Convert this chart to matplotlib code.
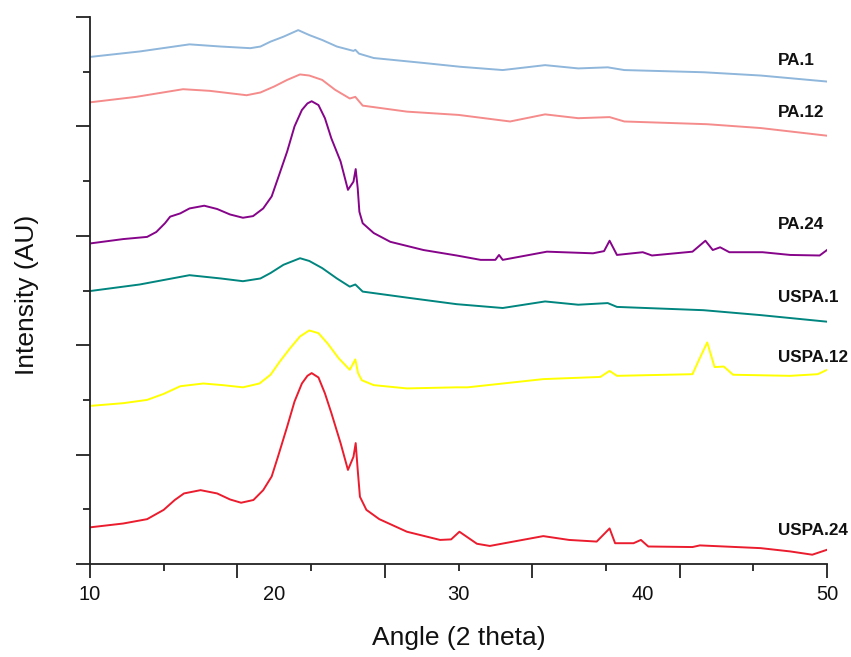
import matplotlib
matplotlib.use("Agg")
import matplotlib.pyplot as plt
from matplotlib.ticker import FixedLocator, NullFormatter

plt.rcParams['font.family'] = ['Liberation Sans', 'DejaVu Sans']

# ---------------- data ----------------
pa1_x = [10.0, 12.7, 15.4, 17.1, 18.7, 19.25, 19.8, 20.5, 21.3, 21.9, 22.6, 23.4,
         24.3, 24.4, 24.6, 25.4, 28.1, 30.1, 32.4, 34.7, 36.5, 38.1, 39.0, 43.3,
         46.4, 50.0]
pa1_y = [9.27, 9.37, 9.50, 9.46, 9.43, 9.46, 9.55, 9.64, 9.76, 9.67, 9.58, 9.46,
         9.38, 9.40, 9.33, 9.25, 9.16, 9.09, 9.03, 9.12, 9.06, 9.08, 9.03, 8.99,
         8.93, 8.82]

pa12_x = [10.0, 12.5, 15.05, 16.5, 18.5, 19.25, 20.0, 20.7, 21.4, 21.9, 22.6, 23.3,
          24.1, 24.4, 24.8, 27.2, 30.0, 32.8, 34.7, 36.5, 38.2, 39.0, 43.5, 46.4,
          50.0]
pa12_y = [8.44, 8.54, 8.68, 8.65, 8.57, 8.62, 8.73, 8.85, 8.95, 8.93, 8.85, 8.67,
          8.51, 8.54, 8.38, 8.27, 8.21, 8.09, 8.22, 8.15, 8.17, 8.09, 8.04, 7.97,
          7.83]

pa24_x = [10.0, 11.8, 13.1, 13.6, 14.07, 14.35, 14.9, 15.4, 16.2, 16.9, 17.6, 18.3,
          18.85, 19.4, 19.86, 20.2, 20.7, 21.1, 21.5, 21.8, 22.03, 22.4, 22.75, 23.1,
          23.6, 24.0, 24.3, 24.42, 24.53, 24.62, 24.8, 25.4, 26.3, 28.1, 29.9, 31.2,
          32.0, 32.2, 32.4, 34.8, 37.3, 37.9, 38.2, 38.6, 40.0, 40.5, 42.7, 43.4,
          43.8, 44.2, 44.7, 46.5, 48.0, 49.6, 50.0]
pa24_y = [5.86, 5.94, 5.98, 6.07, 6.23, 6.35, 6.41, 6.50, 6.55, 6.49, 6.39, 6.33,
          6.36, 6.50, 6.72, 7.05, 7.54, 8.00, 8.30, 8.42, 8.46, 8.39, 8.15, 7.78,
          7.36, 6.84, 6.99, 7.22, 6.87, 6.44, 6.23, 6.05, 5.89, 5.74, 5.64, 5.56,
          5.56, 5.65, 5.56, 5.71, 5.68, 5.72, 5.91, 5.65, 5.70, 5.64, 5.71, 5.91,
          5.74, 5.79, 5.70, 5.70, 5.65, 5.64, 5.74]

uspa1_x = [10.0, 12.7, 15.4, 17.1, 18.3, 19.25, 19.8, 20.5, 21.4, 21.9, 22.6, 23.4,
           24.1, 24.4, 24.8, 27.2, 29.9, 32.4, 34.7, 36.5, 38.1, 38.6, 43.3, 46.4,
           50.0]
uspa1_y = [4.99, 5.11, 5.28, 5.22, 5.17, 5.22, 5.32, 5.47, 5.59, 5.54, 5.41, 5.22,
           5.07, 5.11, 4.98, 4.87, 4.75, 4.68, 4.80, 4.74, 4.77, 4.70, 4.64, 4.55,
           4.43]

uspa12_x = [10.0, 11.8, 13.1, 14.0, 14.9, 16.15, 17.2, 18.3, 19.2, 19.8, 20.3, 20.85,
            21.4, 21.9, 22.4, 22.9, 23.5, 24.1, 24.4, 24.55, 24.75, 25.4, 27.2, 29.9,
            30.5, 34.6, 37.7, 38.2, 38.6, 42.7, 43.05, 43.5, 43.9, 44.4, 44.9, 48.0,
            49.5, 50.0]
uspa12_y = [2.89, 2.94, 3.00, 3.11, 3.25, 3.30, 3.27, 3.23, 3.30, 3.46, 3.70, 3.94,
            4.16, 4.27, 4.22, 4.03, 3.76, 3.55, 3.74, 3.49, 3.36, 3.27, 3.21, 3.23,
            3.23, 3.38, 3.42, 3.53, 3.44, 3.47, 3.73, 4.05, 3.60, 3.61, 3.46, 3.44,
            3.47, 3.55]

uspa24_x = [10.0, 11.8, 13.1, 14.0, 14.6, 15.1, 16.0, 16.9, 17.6, 18.2, 18.87, 19.4,
            19.86, 20.2, 20.7, 21.1, 21.5, 21.8, 22.03, 22.4, 22.75, 23.1, 23.6, 24.0,
            24.3, 24.42, 24.53, 24.65, 25.0, 25.7, 27.2, 29.0, 29.6, 30.05, 31.0, 31.7,
            32.5, 34.6, 36.0, 37.5, 38.2, 38.5, 39.5, 39.9, 40.3, 42.7, 43.1, 46.4,
            48.0, 49.2, 50.0]
uspa24_y = [0.67, 0.74, 0.82, 0.99, 1.17, 1.29, 1.35, 1.29, 1.18, 1.12, 1.17, 1.35,
            1.60, 1.96, 2.51, 2.97, 3.30, 3.44, 3.49, 3.41, 3.12, 2.76, 2.21, 1.72,
            1.96, 2.21, 1.72, 1.23, 0.99, 0.82, 0.59, 0.44, 0.45, 0.59, 0.37, 0.33,
            0.38, 0.51, 0.44, 0.41, 0.65, 0.38, 0.38, 0.44, 0.32, 0.31, 0.34, 0.29,
            0.23, 0.17, 0.26]

series_names = ['PA.1', 'PA.12', 'PA.24', 'USPA.1', 'USPA.12', 'USPA.24']
x_label_values = [10, 20, 30, 40, 50]

# ---------------- styles / layout ----------------
colors = ['#8fb6db', '#f58b8b', '#86048a', '#00857f', '#ffff00', '#ea1c2d']
label_pos_y = [9.21, 8.25, 6.2, 4.87, 3.77, 0.62]   # label y positions (data units)

xs = [pa1_x, pa12_x, pa24_x, uspa1_x, uspa12_x, uspa24_x]
ys = [pa1_y, pa12_y, pa24_y, uspa1_y, uspa12_y, uspa24_y]

fig = plt.figure(figsize=(8.51, 6.57), dpi=100)
ax = fig.add_axes([90 / 851, 1 - 564 / 657, 737 / 851, 547 / 657])

for x, y, c in zip(xs, ys, colors):
    ax.plot(x, y, color=c, lw=1.4, solid_joinstyle='round')

ax.set_xlim(10, 50)
ax.set_ylim(0, 10)

for s in ['top', 'right']:
    ax.spines[s].set_visible(False)
for s in ['left', 'bottom']:
    ax.spines[s].set_linewidth(1.3)
    ax.spines[s].set_color('#222222')

# tick marks (every 4 units on x, labels every 10)
ax.xaxis.set_major_locator(FixedLocator([10, 18, 26, 34, 42, 50]))
ax.xaxis.set_minor_locator(FixedLocator([14, 22, 30, 38, 46]))
ax.xaxis.set_major_formatter(NullFormatter())
ax.yaxis.set_major_locator(FixedLocator([0, 2, 4, 6, 8, 10]))
ax.yaxis.set_minor_locator(FixedLocator([1, 3, 5, 7, 9]))
ax.yaxis.set_major_formatter(NullFormatter())
ax.tick_params(which='major', length=10, width=1.3, direction='out', color='#222222')
ax.tick_params(which='minor', length=5, width=1.3, direction='out', color='#222222')

for v in x_label_values:
    ax.annotate(str(v), xy=(v, 0), xycoords=('data', 'axes fraction'),
                xytext=(0, -15), textcoords='offset points',
                ha='center', va='top', fontsize=14.5, color='#111111',
                annotation_clip=False)

ax.text(0.5, -0.135, 'Angle (2 theta)', transform=ax.transAxes,
        ha='center', va='center', fontsize=19, color='#111111')
fig.text(27 / 851, 1 - 295 / 657, 'Intensity (AU)', rotation=90,
         ha='center', va='center', fontsize=19, color='#111111')

for name, ly in zip(series_names, label_pos_y):
    ax.text(47.35, ly, name, ha='left', va='center', fontsize=12.3,
            fontweight='bold', color='#111111', clip_on=False)

fig.savefig('out.png', dpi=100, facecolor='white')
